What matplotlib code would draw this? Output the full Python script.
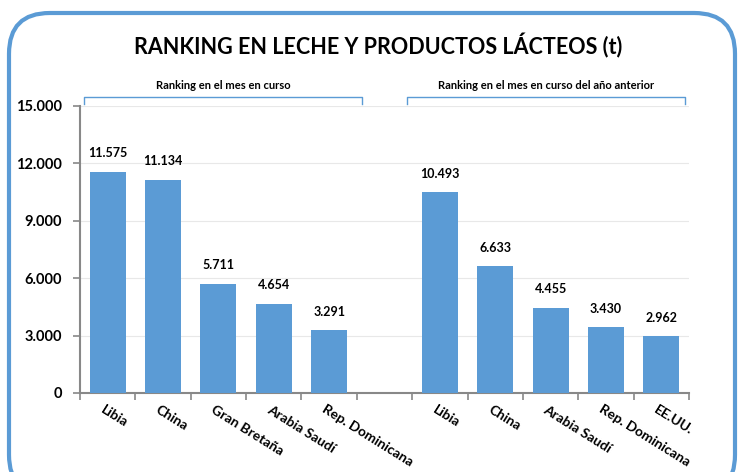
import matplotlib
matplotlib.use("Agg")
import matplotlib.pyplot as plt
from matplotlib.patches import FancyBboxPatch
import numpy as np

categories_current = ["Libia", "China", "Gran Bretaña", "Arabia Saudí", "Rep. Dominicana"]
values_current = [11575, 11134, 5711, 4654, 3291]
categories_prev = ["Libia", "China", "Arabia Saudí", "Rep. Dominicana", "EE.UU."]
values_prev = [10493, 6633, 4455, 3430, 2962]
yticks = [0, 3000, 6000, 9000, 12000, 15000]
title = "RANKING EN LECHE Y PRODUCTOS LÁCTEOS (t)"
group_labels = ["Ranking en el mes en curso", "Ranking en el mes en curso del año anterior"]

FONT = ["Lato", "DejaVu Sans"]
plt.rcParams["font.family"] = FONT
BLUE = "#5B9BD5"

fig = plt.figure(figsize=(7.42, 4.72), dpi=100)
W, H = 742, 472

# rounded border
border = FancyBboxPatch((9 / W, -0.05), (W - 16) / W, 1 - 13 / H + 0.05,
                        boxstyle="round,pad=0,rounding_size=0.055",
                        transform=fig.transFigure, fill=False,
                        edgecolor=BLUE, linewidth=3, zorder=0,
                        mutation_aspect=W / H)
fig.patches.append(border)

ax = fig.add_axes([80 / W, 1 - 393 / H, (689 - 80) / W, (393 - 106) / H])

labels = categories_current + [""] + categories_prev
values = values_current + [np.nan] + values_prev
x = np.arange(len(labels))
ax.bar(x, values, width=0.65, color=BLUE, zorder=3)

for xi, v in zip(x, values):
    if not np.isnan(v):
        ax.annotate(f"{int(v):,}".replace(",", "."), (xi, v), xytext=(0, 9),
                    textcoords="offset points", ha="center", va="bottom",
                    fontsize=9, fontweight="bold")

ax.set_xlim(-0.5, len(labels) - 0.5)
ax.set_ylim(0, 15000)
ax.set_yticks(yticks)
ax.set_yticklabels([f"{t:,}".replace(",", ".") for t in yticks],
                   fontsize=10.5, fontweight="bold")
ax.yaxis.grid(True, color="#E8E8E8", linewidth=0.8, zorder=0)
ax.set_axisbelow(True)

ax.set_xticks(x)
ax.set_xticklabels([])
ax.tick_params(axis="x", which="major", length=0)
ax.set_xticks(np.arange(-0.5, len(labels)), minor=True)
ax.tick_params(axis="x", which="minor", length=5, color="#888888", width=1.2)
ax.tick_params(axis="y", length=5, color="#888888", width=1.2, pad=8)

for xi, lab in zip(x, labels):
    if lab:
        ax.text(xi - 0.05, -0.035, lab, transform=ax.get_xaxis_transform(),
                rotation=-32, rotation_mode="anchor", ha="left", va="top",
                fontsize=10, fontweight="bold")

for s in ["top", "right"]:
    ax.spines[s].set_visible(False)
for s in ["left", "bottom"]:
    ax.spines[s].set_color("#888888")
    ax.spines[s].set_linewidth(1.5)

# title
fig.text(0.51, 1 - 46 / H, title, ha="center", va="center",
         fontsize=15.5, fontweight="bold")

# group brackets
trans = ax.get_xaxis_transform()
for (x0, x1), glab in zip([(-0.43, 4.6), (5.4, 10.43)], group_labels):
    yb = 1.007
    ax.plot([x0, x0, x1, x1], [yb, yb + 0.024, yb + 0.024, yb], transform=trans,
            color=BLUE, linewidth=1, clip_on=False)
    ax.text((x0 + x1) / 2, 1.07, glab, transform=trans, ha="center",
            va="center", fontsize=8, fontweight="bold")

fig.savefig("out.png", dpi=100)
